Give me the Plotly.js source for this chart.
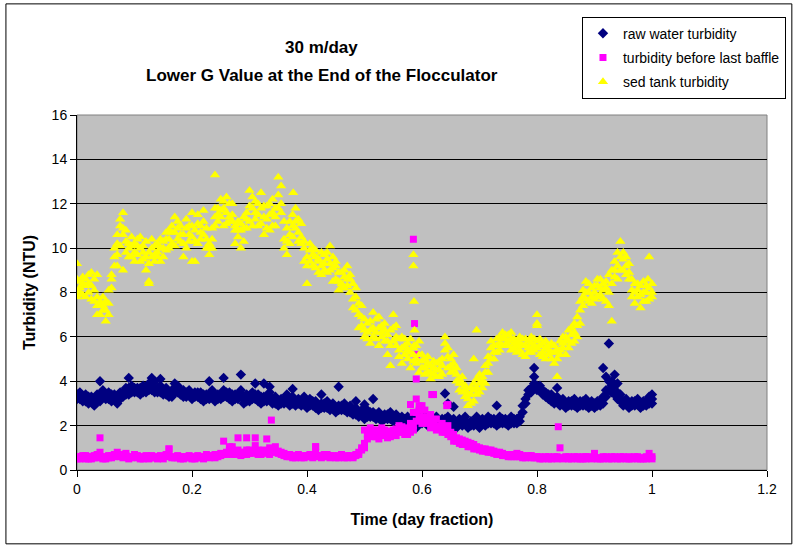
<!DOCTYPE html>
<html>
<head>
<meta charset="utf-8">
<script src="https://cdn.plot.ly/plotly-3.0.1.min.js"></script>
<style>
  html, body { margin: 0; padding: 0; background: #fff; }
  #chart { width: 800px; height: 550px; }
</style>
</head>
<body>
<div id="chart"></div>
<script>
// sample times (day fraction), shared by the three probes
var timeFrac = [
  0,0.005,0.01,0.015,0.02,0.025,0.03,0.035,0.04,0.045,
  0.05,0.055,0.06,0.065,0.07,0.075,0.08,0.085,0.09,0.095,
  0.1,0.105,0.11,0.115,0.12,0.125,0.13,0.135,0.14,0.145,
  0.15,0.155,0.16,0.165,0.17,0.175,0.18,0.185,0.19,0.195,
  0.2,0.205,0.21,0.215,0.22,0.225,0.23,0.235,0.24,0.245,
  0.25,0.255,0.26,0.265,0.27,0.275,0.28,0.285,0.29,0.295,
  0.3,0.305,0.31,0.315,0.32,0.325,0.33,0.335,0.34,0.345,
  0.35,0.355,0.36,0.365,0.37,0.375,0.38,0.385,0.39,0.395,
  0.4,0.405,0.41,0.415,0.42,0.425,0.43,0.435,0.44,0.445,
  0.45,0.455,0.46,0.465,0.47,0.475,0.48,0.485,0.49,0.495,
  0.5,0.505,0.51,0.515,0.52,0.525,0.53,0.535,0.54,0.545,
  0.55,0.555,0.56,0.565,0.57,0.575,0.58,0.585,0.59,0.595,
  0.6,0.605,0.61,0.615,0.62,0.625,0.63,0.635,0.64,0.645,
  0.65,0.655,0.66,0.665,0.67,0.675,0.68,0.685,0.69,0.695,
  0.7,0.705,0.71,0.715,0.72,0.725,0.73,0.735,0.74,0.745,
  0.75,0.755,0.76,0.765,0.77,0.775,0.78,0.785,0.79,0.795,
  0.8,0.805,0.81,0.815,0.82,0.825,0.83,0.835,0.84,0.845,
  0.85,0.855,0.86,0.865,0.87,0.875,0.88,0.885,0.89,0.895,
  0.9,0.905,0.91,0.915,0.92,0.925,0.93,0.935,0.94,0.945,
  0.95,0.955,0.96,0.965,0.97,0.975,0.98,0.985,0.99,0.995,
  1
];

// raw water turbidity (NTU), two readings per sample time
var rawTurbA = [
  3.2,3.5,3.1,3.4,3.0,3.3,2.9,3.4,3.1,3.6,
  3.2,3.5,3.1,3.4,3.0,3.5,3.3,3.7,3.4,3.8,
  3.5,3.7,3.4,3.8,3.5,3.9,3.6,4.0,3.5,3.8,
  3.4,3.7,3.3,3.6,3.5,3.8,3.4,3.6,3.3,3.6,
  3.2,3.5,3.3,3.5,3.1,3.4,3.2,3.6,3.1,3.4,
  3.2,3.6,3.3,3.5,3.1,3.4,3.2,3.6,3.0,3.4,
  3.1,3.5,3.2,3.4,3.0,3.3,3.1,3.5,3.0,3.3,
  2.9,3.2,3.0,3.4,2.9,3.3,3.1,3.2,2.9,3.3,
  2.8,3.2,2.9,3.1,2.7,3.0,2.8,3.1,2.7,3.0,
  2.6,2.9,2.7,3.0,2.6,2.9,2.5,2.8,2.4,2.7,
  2.3,2.7,2.4,2.6,2.3,2.6,2.2,2.5,2.3,2.6,
  2.2,2.5,2.3,2.4,2.1,2.4,2.0,2.3,1.9,2.4,
  2.1,2.4,2.0,2.3,2.1,2.4,2.0,2.3,2.1,2.4,
  2.0,2.3,1.9,2.3,2.0,2.4,1.9,2.2,2.0,2.4,
  1.9,2.3,2.0,2.4,2.1,2.3,2.0,2.4,2.1,2.3,
  2.0,2.4,2.1,2.3,2.2,2.6,3.0,3.4,3.7,3.9,
  3.8,3.6,3.4,3.5,3.2,3.4,3.0,3.3,2.9,3.2,
  2.8,3.1,2.9,3.2,2.8,3.1,2.9,3.2,2.8,3.1,
  2.8,3.1,2.9,3.3,3.6,4.0,3.5,3.8,3.2,3.4,
  2.9,3.2,2.8,3.1,2.9,3.2,2.8,3.1,2.9,3.3,
  3.0
];
var rawTurbB = [
  3.4,3.2,3.3,3.1,3.3,3.1,3.2,3.1,3.4,3.3,
  3.4,3.2,3.4,3.2,3.3,3.2,3.5,3.4,3.7,3.5,
  3.7,3.5,3.7,3.5,3.7,3.6,3.8,3.5,3.7,3.5,
  3.6,3.4,3.5,3.3,3.7,3.5,3.6,3.3,3.5,3.4,
  3.4,3.3,3.5,3.2,3.4,3.2,3.4,3.3,3.4,3.2,
  3.4,3.3,3.5,3.2,3.4,3.2,3.4,3.3,3.3,3.1,
  3.3,3.2,3.4,3.1,3.3,3.1,3.3,3.2,3.2,3.0,
  3.1,3.0,3.2,3.1,3.1,3.0,2.9,3.0,3.1,3.0,
  3.0,2.9,3.1,2.8,2.9,2.8,3.0,2.8,2.9,2.8,
  2.8,2.7,2.9,2.7,2.8,2.6,2.7,2.5,2.6,2.5,
  2.5,2.4,2.6,2.4,2.5,2.4,2.4,2.3,2.5,2.3,
  2.4,2.3,2.2,2.2,2.3,2.2,2.2,2.1,2.2,2.1,
  2.3,2.2,2.2,2.1,2.3,2.2,2.2,2.1,2.3,2.2,
  2.2,2.1,2.1,2.1,2.2,2.1,2.1,2.0,2.2,2.1,
  2.1,2.1,2.2,2.1,2.3,2.1,2.2,2.1,2.3,2.1,
  2.2,2.1,2.3,2.1,2.4,2.9,3.2,3.6,3.5,3.7,
  3.6,3.8,3.6,3.3,3.4,3.1,3.2,3.1,3.1,3.0,
  3.0,2.9,3.1,2.9,3.0,2.9,3.1,2.9,3.0,2.9,
  3.0,2.9,3.1,3.0,3.3,3.6,3.8,3.4,3.5,3.1,
  3.1,3.0,3.0,2.9,3.1,3.0,3.0,2.9,3.1,3.0,
  3.2
];

// turbidity before last baffle (NTU)
var baffleTurbA = [
  0.6,0.5,0.55,0.65,0.5,0.6,0.55,0.7,0.8,0.5,
  0.6,0.55,0.65,0.7,0.8,0.6,0.55,0.75,0.5,0.6,
  0.7,0.55,0.6,0.5,0.65,0.6,0.55,0.6,0.5,0.65,
  0.6,0.7,0.95,0.6,0.55,0.65,0.5,0.6,0.55,0.65,
  0.6,0.5,0.65,0.55,0.6,0.7,0.55,0.65,0.7,0.6,
  0.75,1.3,0.7,0.85,1.05,0.7,0.9,0.65,0.8,0.7,
  0.9,0.75,1.1,0.7,0.8,0.9,0.75,1.0,0.8,1.05,
  0.85,0.7,0.75,0.6,0.7,0.55,0.65,0.6,0.55,0.65,
  0.6,0.7,0.55,1.05,0.65,0.55,0.6,0.7,0.55,0.65,
  0.6,0.55,0.7,0.6,0.55,0.65,0.6,0.7,0.8,1.0,
  1.2,1.6,1.9,1.5,1.8,1.4,1.9,1.6,1.75,1.5,
  1.8,1.55,2.0,1.7,1.9,1.6,2.1,1.8,2.6,2.9,
  2.4,2.7,2.1,2.5,2.0,2.3,1.9,2.1,1.7,2.0,
  1.5,1.3,1.45,1.2,1.35,1.15,1.25,1.05,1.15,0.95,
  1.0,0.85,0.95,0.8,0.9,0.75,0.8,0.7,0.75,0.65,
  0.7,0.6,0.65,0.75,0.6,0.65,0.55,0.6,0.65,0.55,
  0.6,0.5,0.55,0.6,0.5,0.55,0.6,0.5,1.0,0.55,
  0.6,0.5,0.55,0.6,0.5,0.55,0.5,0.6,0.55,0.5,
  0.75,0.55,0.5,0.6,0.55,0.5,0.6,0.55,0.5,0.6,
  0.55,0.5,0.6,0.5,0.55,0.6,0.5,0.55,0.5,0.75,
  0.5
];
var baffleTurbB = [
  0.5,0.6,0.65,0.5,0.6,0.5,0.65,0.55,0.6,0.6,
  0.5,0.65,0.55,0.6,0.65,0.7,0.6,0.65,0.6,0.55,
  0.6,0.65,0.5,0.6,0.55,0.5,0.65,0.55,0.6,0.55,
  0.5,0.6,0.65,0.55,0.6,0.55,0.6,0.5,0.6,0.55,
  0.5,0.6,0.55,0.6,0.5,0.6,0.65,0.6,0.55,0.7,
  0.65,0.7,0.8,0.75,0.7,0.85,0.75,0.8,0.7,0.9,
  0.75,0.85,0.8,0.9,0.7,0.8,0.85,0.7,0.9,0.8,
  0.75,0.8,0.65,0.7,0.6,0.65,0.55,0.7,0.6,0.55,
  0.65,0.6,0.7,0.8,0.6,0.65,0.7,0.6,0.65,0.6,
  0.55,0.65,0.6,0.55,0.65,0.6,0.55,0.65,0.7,0.9,
  1.0,1.4,1.6,1.8,1.5,1.7,1.55,1.8,1.45,1.7,
  1.6,1.85,1.7,1.95,1.6,1.85,1.7,2.0,2.2,2.4,
  2.1,2.3,2.4,1.9,2.2,1.8,2.0,1.7,1.9,1.6,
  1.7,1.6,1.3,1.4,1.15,1.3,1.05,1.2,0.95,1.05,
  0.9,0.95,0.85,0.9,0.8,0.85,0.7,0.8,0.65,0.7,
  0.6,0.7,0.6,0.6,0.7,0.55,0.6,0.65,0.55,0.6,
  0.55,0.6,0.5,0.55,0.6,0.5,0.55,0.6,0.55,0.5,
  0.55,0.6,0.5,0.55,0.6,0.5,0.6,0.5,0.6,0.55,
  0.6,0.5,0.55,0.5,0.6,0.55,0.5,0.6,0.55,0.5,
  0.6,0.55,0.5,0.55,0.6,0.5,0.55,0.5,0.6,0.55,
  0.6
];

// sed tank turbidity (NTU), three readings per sample time
var sedTurbA = [
  9.3,8.2,8.7,7.8,8.4,8.9,8.1,7.4,7.0,7.8,
  6.7,7.5,8.6,9.6,10.2,11.0,11.6,10.3,9.6,10.5,
  9.8,10.4,9.4,10.1,9.0,8.5,10.4,9.7,10.2,9.4,
  10.3,9.9,10.8,10.2,11.4,10.4,11.0,9.6,10.9,10.3,
  11.6,9.4,11.1,10.4,11.7,10.0,9.7,10.4,11.8,11.2,
  12.2,11.0,12.3,11.4,12.0,10.2,11.2,10.0,11.4,10.9,
  12.6,11.0,12.1,11.5,12.5,10.6,11.9,10.8,12.2,11.0,
  13.2,11.6,10.4,9.7,11.2,10.5,11.8,10.3,11.1,9.4,
  8.4,9.9,9.2,9.6,8.9,9.8,9.0,9.5,10.1,8.5,
  9.2,8.1,8.9,8.2,9.2,8.0,7.3,7.8,6.4,6.9,
  6.0,6.6,5.7,7.1,6.2,5.6,6.5,5.8,5.2,4.7,
  7.0,6.0,5.4,4.8,5.9,5.0,4.6,5.5,4.8,4.4,
  5.2,4.3,4.8,4.1,4.6,4.2,4.9,4.3,6.0,5.1,
  4.4,4.8,4.0,3.6,3.9,3.3,2.9,3.4,3.1,3.7,
  3.5,4.2,3.9,4.8,5.5,5.0,5.9,5.4,6.2,5.6,
  6.1,5.4,5.9,5.3,6.0,5.6,5.1,5.8,5.3,5.9,
  6.5,5.2,5.7,5.0,5.6,5.3,4.8,4.2,5.4,6.0,
  5.2,6.3,5.7,6.6,6.0,7.2,7.8,8.5,7.6,8.2,
  7.7,8.6,7.9,8.4,7.6,8.8,6.7,9.4,8.6,10.3,
  9.5,8.8,9.3,8.1,7.5,8.4,7.3,8.0,7.6,9.6,
  8.0
];
var sedTurbB = [
  8.0,8.5,7.9,8.3,8.0,7.7,7.6,7.8,7.5,7.2,
  7.2,7.0,8.2,9.2,9.7,10.1,10.6,9.8,10.0,9.6,
  10.2,9.7,10.0,9.5,9.6,9.3,9.6,10.1,9.6,10.0,
  9.6,10.4,10.0,10.7,10.1,10.9,10.3,10.6,10.0,11.0,
  10.5,10.8,10.2,11.0,10.6,10.9,10.2,10.0,11.0,11.8,
  11.4,11.8,11.1,12.0,11.2,10.8,10.5,10.8,10.3,11.3,
  11.2,11.8,11.3,12.0,11.1,11.4,10.9,11.5,11.0,11.8,
  12.4,12.0,11.2,10.3,10.6,11.0,10.9,11.3,10.5,10.0,
  9.6,9.4,10.0,9.1,9.5,9.2,9.7,8.9,9.3,9.1,
  8.6,8.9,8.4,9.0,8.6,8.8,8.4,7.2,7.5,6.5,
  6.8,6.2,6.7,6.4,6.8,6.4,6.0,6.6,6.1,5.6,
  6.4,5.6,5.9,5.5,5.2,5.7,5.3,4.9,5.6,5.2,
  4.6,5.0,4.4,4.7,4.3,4.8,4.5,4.7,5.4,4.6,
  5.0,4.5,4.3,4.1,3.5,3.8,3.2,3.0,3.6,3.4,
  3.9,3.7,4.4,4.4,5.0,5.6,5.3,6.0,5.6,5.9,
  5.6,5.9,5.5,5.8,5.4,5.9,5.6,5.3,5.7,5.4,
  5.8,5.6,5.3,5.5,5.2,5.7,5.3,5.0,5.8,5.5,
  5.8,5.5,6.1,5.8,6.5,6.6,7.4,8.0,8.4,7.8,
  8.3,7.8,8.2,7.7,8.5,8.0,9.0,8.7,9.2,9.6,
  9.0,9.6,8.6,8.6,8.0,7.8,8.3,7.6,8.3,8.2,
  8.4
];
var sedTurbC = [
  8.6,8.0,8.4,8.6,8.8,8.3,8.6,7.0,7.6,7.4,
  7.6,8.1,8.8,10.0,10.6,11.3,10.9,10.8,10.2,10.1,
  9.4,10.1,10.5,9.8,10.3,9.8,10.0,9.4,9.8,10.4,
  10.0,10.7,10.4,11.0,10.7,11.2,10.6,10.2,11.3,10.6,
  11.0,10.3,11.5,10.7,11.2,10.4,10.0,10.9,11.4,11.5,
  11.7,12.1,11.6,11.2,11.5,11.0,10.8,11.1,10.9,11.6,
  11.9,12.3,11.6,11.0,11.8,11.9,11.3,12.0,11.6,11.4,
  11.8,12.8,10.0,10.9,10.2,11.5,11.2,10.7,10.2,10.3,
  9.2,10.2,9.7,9.9,9.4,8.8,9.3,9.8,9.0,9.6,
  9.4,8.5,8.2,8.7,8.3,8.6,7.7,8.2,7.0,7.4,
  6.3,5.9,6.3,6.0,5.9,6.9,6.2,6.3,5.8,6.3,
  5.8,6.5,5.1,6.0,5.6,5.4,5.9,5.2,5.0,5.8,
  4.9,4.6,5.1,4.4,4.9,4.5,4.2,5.0,5.7,5.5,
  4.7,5.2,4.6,3.9,4.2,3.6,3.4,3.7,3.9,4.1,
  4.3,4.0,4.7,5.1,5.8,5.3,5.6,5.7,5.9,6.1,
  5.8,6.2,5.7,5.6,5.7,5.2,5.9,5.5,6.0,5.6,
  5.5,5.9,5.1,5.8,5.4,5.0,5.6,5.4,5.2,5.7,
  6.0,5.8,6.4,6.2,6.9,7.6,8.1,7.7,8.0,7.5,
  8.0,8.3,8.6,8.1,8.2,7.4,8.4,9.0,9.8,9.0,
  9.8,9.2,8.9,7.8,8.4,8.1,7.9,8.5,8.0,7.7,
  7.8
];

// isolated readings off the main bands
var rawSpikeT = [0.04,0.09,0.13,0.145,0.17,0.23,0.255,0.285,0.31,0.325,0.335,0.375,0.425,0.455,0.485,0.5,0.515,0.64,0.645,0.655,0.73,0.795,0.795,0.835,0.915,0.92,0.925,0.93,0.935,0.94,1];
var rawSpikeV = [4.0,4.15,4.15,4.1,3.9,4.0,4.15,4.3,3.9,3.9,3.75,3.65,3.4,3.75,3.1,2.95,3.2,3.45,3.0,2.85,2.9,4.2,4.6,3.7,4.6,4.2,5.7,4.0,4.3,3.9,3.4];

var baffleSpikeT = [0.04,0.16,0.265,0.28,0.295,0.31,0.33,0.338,0.415,0.5,0.58,0.585,0.585,0.587,0.59,0.59,0.59,0.595,0.6,0.617,0.62,0.643,0.645,0.837];
var baffleSpikeV = [1.45,0.95,1.05,1.45,1.45,1.45,1.4,2.25,1.05,1.8,2.95,2.6,10.4,6.6,5.2,4.1,3.2,2.7,2.9,3.4,3.4,2.9,2.95,1.95];

var sedSpikeT = [0,0.035,0.07,0.08,0.125,0.2,0.24,0.376,0.585,0.585,0.586,0.586,0.587,0.69,0.695,0.8,0.8,0.993];
var sedSpikeV = [7.8,8.8,9.2,9.0,8.4,9.4,13.3,12.5,9.7,9.2,7.6,5.6,6.3,5.0,6.3,7.0,6.6,8.6];

var navy = '#000080', magenta = '#FF00FF', yellow = '#FFFF00';

function pts(name, x, y, symbol, color, size, legend) {
  return {
    x: x, y: y, name: name, type: 'scatter', mode: 'markers',
    showlegend: legend, legendgroup: name,
    marker: { symbol: symbol, color: color, size: size, line: { width: 0 } }
  };
}

var RAW = 'raw water turbidity', BAF = 'turbidity before last baffle', SED = 'sed tank turbidity';

var data = [
  pts(RAW, timeFrac, rawTurbA, 'diamond', navy, 8, true),
  pts(RAW, timeFrac, rawTurbB, 'diamond', navy, 8, false),
  pts(RAW, rawSpikeT, rawSpikeV, 'diamond', navy, 8, false),
  pts(BAF, timeFrac, baffleTurbA, 'square', magenta, 7, true),
  pts(BAF, timeFrac, baffleTurbB, 'square', magenta, 7, false),
  pts(BAF, baffleSpikeT, baffleSpikeV, 'square', magenta, 7, false),
  pts(SED, timeFrac, sedTurbA, 'triangle-up', yellow, 9, true),
  pts(SED, timeFrac, sedTurbB, 'triangle-up', yellow, 9, false),
  pts(SED, timeFrac, sedTurbC, 'triangle-up', yellow, 9, false),
  pts(SED, sedSpikeT, sedSpikeV, 'triangle-up', yellow, 9, false)
];

var font = 'Arial, "Liberation Sans", sans-serif';

var layout = {
  width: 800, height: 550,
  margin: { l: 77, r: 33, t: 115, b: 80 },
  paper_bgcolor: '#ffffff',
  plot_bgcolor: '#C0C0C0',
  font: { family: font, size: 14, color: '#000' },
  showlegend: true,
  legend: {
    x: 1.0275, y: 1.277, xanchor: 'right', yanchor: 'top',
    bgcolor: '#ffffff', bordercolor: '#000', borderwidth: 1,
    font: { family: font, size: 14, color: '#000' },
    itemsizing: 'trace', itemwidth: 30, tracegroupgap: 3
  },
  xaxis: {
    range: [0, 1.2], dtick: 0.2, tick0: 0,
    showgrid: false, zeroline: false,
    showline: true, linecolor: '#000', linewidth: 1,
    ticks: 'outside', ticklen: 6, tickcolor: '#000',
    tickfont: { family: font, size: 14 },
    title: { text: '<b>Time (day fraction)</b>', font: { family: font, size: 16 }, standoff: 18 }
  },
  yaxis: {
    range: [0, 16], dtick: 2, tick0: 0,
    showgrid: true, gridcolor: '#000', gridwidth: 1,
    zeroline: false,
    showline: true, linecolor: '#000', linewidth: 1,
    ticks: 'outside', ticklen: 6, tickcolor: '#000',
    tickfont: { family: font, size: 14 },
    title: { text: '<b>Turbidity (NTU)</b>', font: { family: font, size: 16 }, standoff: 12 }
  },
  annotations: [
    { text: '<b>30 m/day</b>', xref: 'paper', yref: 'paper', x: 0.355, y: 1.19,
      xanchor: 'center', yanchor: 'middle', showarrow: false, font: { family: font, size: 17 } },
    { text: '<b>Lower G Value at the End of the Flocculator</b>', xref: 'paper', yref: 'paper', x: 0.355, y: 1.111,
      xanchor: 'center', yanchor: 'middle', showarrow: false, font: { family: font, size: 17 } }
  ],
  shapes: [
    // chart area border
    { type: 'rect', xref: 'paper', yref: 'paper', x0: -0.103, x1: 1.036, y0: -0.208, y1: 1.313,
      line: { color: '#000', width: 1 }, fillcolor: 'rgba(0,0,0,0)', layer: 'below' },
    // plot area frame
    { type: 'rect', xref: 'paper', yref: 'paper', x0: 0, x1: 1, y0: 0, y1: 1,
      line: { color: '#808080', width: 1 }, fillcolor: 'rgba(0,0,0,0)', layer: 'below' }
  ]
};

Plotly.newPlot('chart', data, layout, { displayModeBar: false, staticPlot: true });
</script>
</body>
</html>
